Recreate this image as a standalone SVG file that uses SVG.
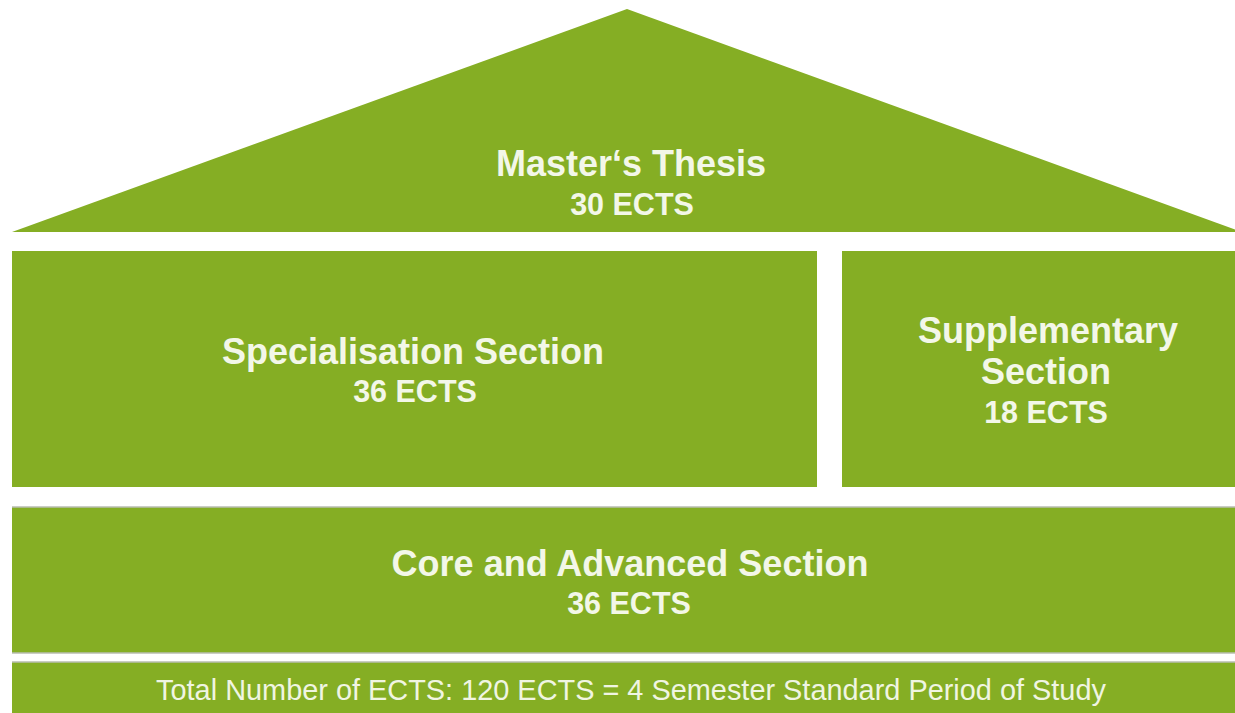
<svg xmlns="http://www.w3.org/2000/svg" width="1235" height="713" viewBox="0 0 1235 713">
<style>
.blk{fill:#85AE24}
.sep{stroke:#b9bdb0;stroke-width:1.5}
.t{font-family:"Liberation Sans",Arial,sans-serif;font-weight:bold;fill:#F3F7E8;text-anchor:middle}
.big{font-size:36px}
.mid{font-size:30.5px}
.foot{font-family:"Liberation Sans",Arial,sans-serif;font-size:28.9px;fill:#F0F5E2;text-anchor:middle}
</style>
<rect width="1235" height="713" fill="#ffffff"/>
<g id="masters-thesis">
<polygon class="blk" points="627,9 12,232 1242,232"/>
<text class="t big" x="631" y="176">Master‘s Thesis</text>
<text class="t mid" x="632" y="215">30 ECTS</text>
</g>
<g id="specialisation">
<rect class="blk" x="12" y="251" width="805" height="236"/>
<text class="t big" x="413" y="364">Specialisation Section</text>
<text class="t mid" x="415" y="402">36 ECTS</text>
</g>
<g id="supplementary">
<rect class="blk" x="842" y="251" width="393" height="236"/>
<text class="t big" x="1048" y="343">Supplementary</text>
<text class="t big" x="1046" y="384">Section</text>
<text class="t mid" x="1046" y="423">18 ECTS</text>
</g>
<g id="core">
<rect class="blk" x="12" y="507" width="1223" height="146"/>
<line class="sep" x1="12" y1="507" x2="1235" y2="507"/>
<line class="sep" x1="12" y1="653" x2="1235" y2="653"/>
<text class="t big" x="630" y="576">Core and Advanced Section</text>
<text class="t mid" x="629" y="614">36 ECTS</text>
</g>
<g id="total">
<rect class="blk" x="12" y="662" width="1223" height="51"/>
<line class="sep" x1="12" y1="662" x2="1235" y2="662"/>
<text class="foot" x="631" y="700">Total Number of ECTS: 120 ECTS = 4 Semester Standard Period of Study</text>
</g>
<g id="connectors"/>
</svg>
